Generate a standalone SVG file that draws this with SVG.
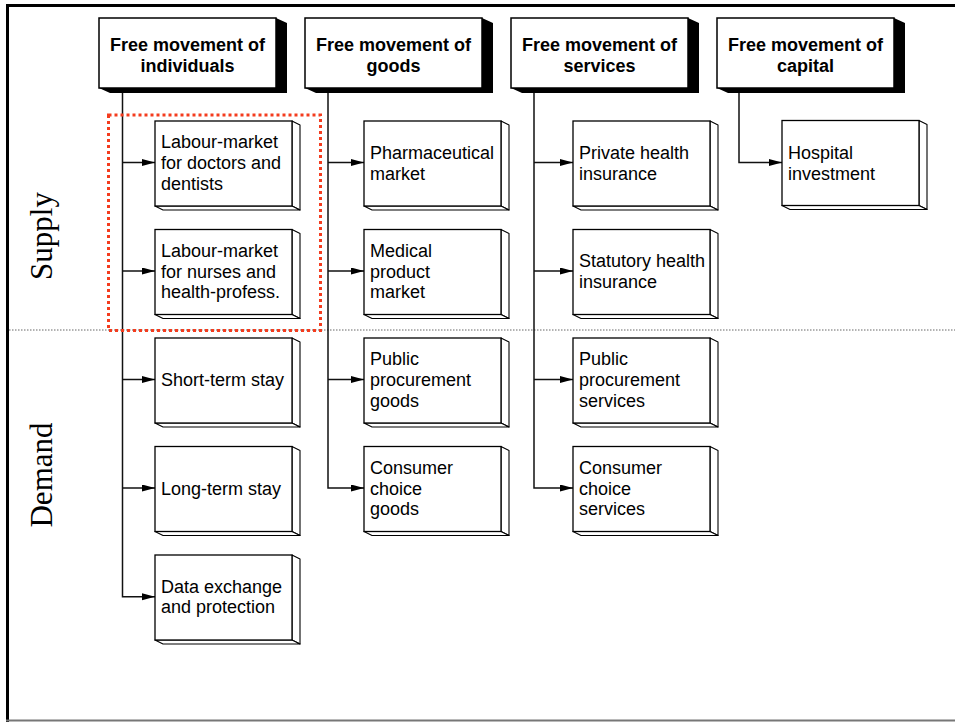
<svg xmlns="http://www.w3.org/2000/svg" width="955" height="722" viewBox="0 0 955 722">
  <style>
    .frame { fill: none; stroke: #000; stroke-width: 3; }
    .divider { stroke: #666; stroke-width: 1; stroke-dasharray: 1.5 1.5; }
    .focus { fill: none; stroke: #f43c1e; stroke-width: 3; stroke-dasharray: 3 3; }
    .side { fill: #000; }
    .hdr { fill: #fff; stroke: #000; stroke-width: 1.5; }
    .hdr-t { font-family: "Liberation Sans", Arial, sans-serif; font-size: 18px; font-weight: bold; text-anchor: middle; fill: #000; }
    .box { fill: #fff; stroke: #000; stroke-width: 1.3; }
    .face { fill: #fff; stroke: #000; stroke-width: 1.1; stroke-linejoin: round; }
    .box-t { font-family: "Liberation Sans", Arial, sans-serif; font-size: 18px; fill: #000; }
    .axis { font-family: "Liberation Serif", "Times New Roman", serif; font-size: 31px; text-anchor: middle; fill: #000; }
    .link { fill: none; stroke: #111; stroke-width: 1.5; }
  </style>
  <defs>
    <marker id="arrow" markerUnits="userSpaceOnUse" markerWidth="14" markerHeight="8" refX="13" refY="3.5" orient="auto">
      <path d="M0,0 L13,3.5 L0,7 z" fill="#000"/>
    </marker>
    <!-- child box: front face 137x85 plus a thin 3D extrusion -->
    <g id="cbox">
      <polygon class="face" points="137,0 145,4 145,89 137,85"/>
      <polygon class="face" points="0,85 137,85 145,89 8,89"/>
      <rect class="box" x="0" y="0" width="137" height="85"/>
    </g>
    <!-- header box: front face 177x70 with a solid black extrusion -->
    <g id="hbox">
      <polygon class="side" points="177,0 188,5 188,75 11,75 0,70 177,70"/>
      <rect class="hdr" x="0" y="0" width="177" height="70"/>
    </g>
  </defs>

  <rect width="955" height="722" fill="#fff"/>

  <!-- page frame -->
  <line x1="6" y1="5.5" x2="955" y2="5.5" stroke="#000" stroke-width="3"/>
  <line x1="7.5" y1="4" x2="7.5" y2="722" stroke="#000" stroke-width="3"/>
  <line x1="6" y1="720.5" x2="955" y2="720.5" stroke="#777" stroke-width="2"/>

  <!-- supply / demand split -->
  <line class="divider" x1="9" y1="330" x2="955" y2="330"/>
  <text class="axis" transform="translate(52,236) rotate(-90)">Supply</text>
  <text class="axis" transform="translate(52,475) rotate(-90)">Demand</text>

  <!-- connectors -->
  <g id="connectors">
    <path class="link" d="M122.5,88 V596.7 H155" marker-end="url(#arrow)"/>
    <path class="link" d="M122.5,162.5 H155" marker-end="url(#arrow)"/>
    <path class="link" d="M122.5,271 H155" marker-end="url(#arrow)"/>
    <path class="link" d="M122.5,379.5 H155" marker-end="url(#arrow)"/>
    <path class="link" d="M122.5,488 H155" marker-end="url(#arrow)"/>

    <path class="link" d="M328,88 V488 H364" marker-end="url(#arrow)"/>
    <path class="link" d="M328,162.5 H364" marker-end="url(#arrow)"/>
    <path class="link" d="M328,271 H364" marker-end="url(#arrow)"/>
    <path class="link" d="M328,379.5 H364" marker-end="url(#arrow)"/>

    <path class="link" d="M534,88 V488 H573" marker-end="url(#arrow)"/>
    <path class="link" d="M534,162.5 H573" marker-end="url(#arrow)"/>
    <path class="link" d="M534,271 H573" marker-end="url(#arrow)"/>
    <path class="link" d="M534,379.5 H573" marker-end="url(#arrow)"/>

    <path class="link" d="M739,88 V162.5 H782" marker-end="url(#arrow)"/>
  </g>

  <!-- headers -->
  <g id="h-individuals">
    <use href="#hbox" x="99" y="18"/>
    <text class="hdr-t" x="187.5" y="50.5">Free movement of</text>
    <text class="hdr-t" x="187.5" y="72">individuals</text>
  </g>
  <g id="h-goods">
    <use href="#hbox" x="305" y="18"/>
    <text class="hdr-t" x="393.5" y="50.5">Free movement of</text>
    <text class="hdr-t" x="393.5" y="72">goods</text>
  </g>
  <g id="h-services">
    <use href="#hbox" x="511" y="18"/>
    <text class="hdr-t" x="599.5" y="50.5">Free movement of</text>
    <text class="hdr-t" x="599.5" y="72">services</text>
  </g>
  <g id="h-capital">
    <use href="#hbox" x="717" y="18"/>
    <text class="hdr-t" x="805.5" y="50.5">Free movement of</text>
    <text class="hdr-t" x="805.5" y="72">capital</text>
  </g>

  <!-- individuals -->
  <g id="n-doctors">
    <use href="#cbox" x="155" y="121"/>
    <text class="box-t" x="161" y="148.3">Labour-market</text>
    <text class="box-t" x="161" y="169.1">for doctors and</text>
    <text class="box-t" x="161" y="189.9">dentists</text>
  </g>
  <g id="n-nurses">
    <use href="#cbox" x="155" y="229.5"/>
    <text class="box-t" x="161" y="256.8">Labour-market</text>
    <text class="box-t" x="161" y="277.6">for nurses and</text>
    <text class="box-t" x="161" y="298.4">health-profess.</text>
  </g>
  <g id="n-short">
    <use href="#cbox" x="155" y="338"/>
    <text class="box-t" x="161" y="386">Short-term stay</text>
  </g>
  <g id="n-long">
    <use href="#cbox" x="155" y="446.5"/>
    <text class="box-t" x="161" y="494.5">Long-term stay</text>
  </g>
  <g id="n-data">
    <use href="#cbox" x="155" y="555"/>
    <text class="box-t" x="161" y="592.6">Data exchange</text>
    <text class="box-t" x="161" y="613.4">and protection</text>
  </g>

  <!-- goods -->
  <g id="n-pharma">
    <use href="#cbox" x="364" y="121"/>
    <text class="box-t" x="370" y="158.7">Pharmaceutical</text>
    <text class="box-t" x="370" y="179.5">market</text>
  </g>
  <g id="n-medical">
    <use href="#cbox" x="364" y="229.5"/>
    <text class="box-t" x="370" y="256.8">Medical</text>
    <text class="box-t" x="370" y="277.6">product</text>
    <text class="box-t" x="370" y="298.4">market</text>
  </g>
  <g id="n-proc-goods">
    <use href="#cbox" x="364" y="338"/>
    <text class="box-t" x="370" y="365.3">Public</text>
    <text class="box-t" x="370" y="386.1">procurement</text>
    <text class="box-t" x="370" y="406.9">goods</text>
  </g>
  <g id="n-choice-goods">
    <use href="#cbox" x="364" y="446.5"/>
    <text class="box-t" x="370" y="473.8">Consumer</text>
    <text class="box-t" x="370" y="494.6">choice</text>
    <text class="box-t" x="370" y="515.4">goods</text>
  </g>

  <!-- services -->
  <g id="n-private">
    <use href="#cbox" x="573" y="121"/>
    <text class="box-t" x="579" y="158.7">Private health</text>
    <text class="box-t" x="579" y="179.5">insurance</text>
  </g>
  <g id="n-statutory">
    <use href="#cbox" x="573" y="229.5"/>
    <text class="box-t" x="579" y="267.2">Statutory health</text>
    <text class="box-t" x="579" y="288">insurance</text>
  </g>
  <g id="n-proc-services">
    <use href="#cbox" x="573" y="338"/>
    <text class="box-t" x="579" y="365.3">Public</text>
    <text class="box-t" x="579" y="386.1">procurement</text>
    <text class="box-t" x="579" y="406.9">services</text>
  </g>
  <g id="n-choice-services">
    <use href="#cbox" x="573" y="446.5"/>
    <text class="box-t" x="579" y="473.8">Consumer</text>
    <text class="box-t" x="579" y="494.6">choice</text>
    <text class="box-t" x="579" y="515.4">services</text>
  </g>

  <!-- capital -->
  <g id="n-hospital">
    <use href="#cbox" x="782" y="120.5"/>
    <text class="box-t" x="788" y="158.9">Hospital</text>
    <text class="box-t" x="788" y="179.7">investment</text>
  </g>

  <!-- highlighted supply-side labour markets -->
  <rect class="focus" x="108.5" y="115" width="212" height="215.5"/>
</svg>
